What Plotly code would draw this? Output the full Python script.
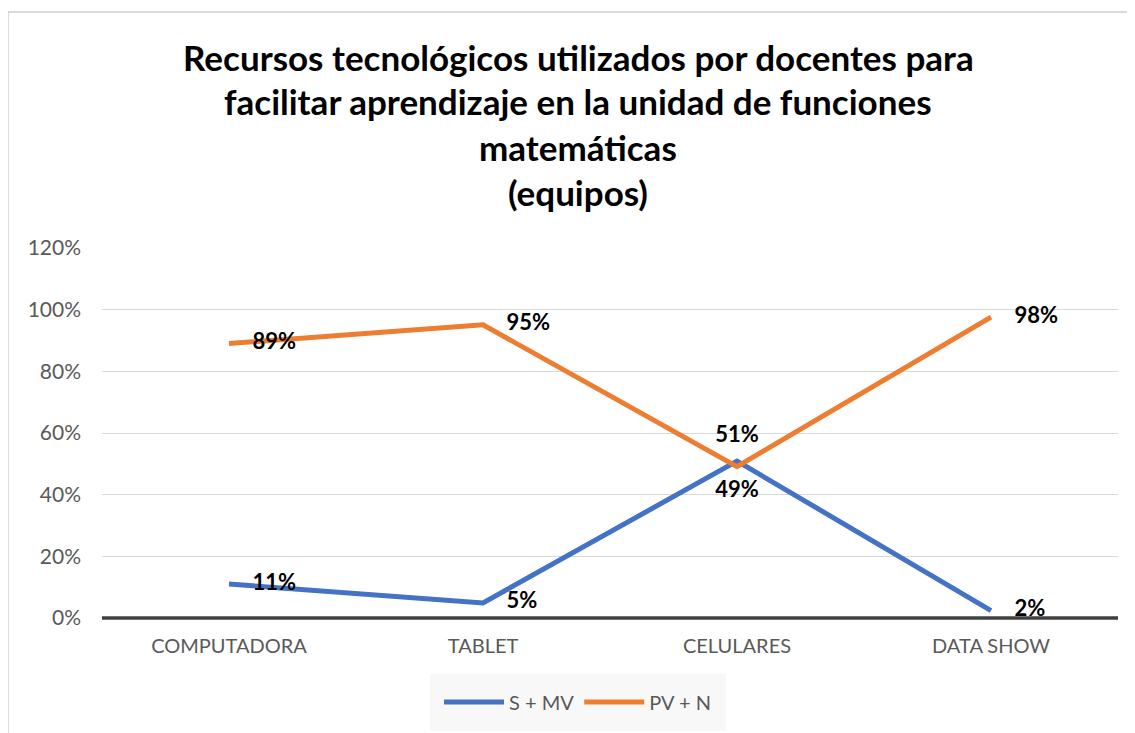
import plotly.graph_objects as go

categories = ["COMPUTADORA", "TABLET", "CELULARES", "DATA SHOW"]
s_mv = [0.11, 0.049, 0.509, 0.024]
pv_n = [0.89, 0.951, 0.491, 0.976]
y_ticks = [0, 0.2, 0.4, 0.6, 0.8, 1.0, 1.2]
y_tick_labels = ["0%", "20%", "40%", "60%", "80%", "100%", "120%"]
title_lines = ["Recursos tecnológicos utilizados por docentes para",
               "facilitar aprendizaje en la unidad de funciones",
               "matemáticas",
               "(equipos)"]

FONT = "Lato"
# page body has 8px margin: design in figure coords = page coords - 8
OFF = 8
L, T = 102 - OFF, 248 - OFF
PW, PH = 1016, 370
W, H = 1135 - OFF, 733 - OFF


def px_to_py(ypx):
    return (T + PH - (ypx - OFF)) / PH


def px_to_px(xpx):
    return ((xpx - OFF) - L) / PW


invisible_marker = dict(size=[36, 36, 20, 36], color="rgba(0,0,0,0)",
                        line=dict(width=0, color="rgba(0,0,0,0)"))

fig = go.Figure()
fig.add_trace(go.Scatter(
    x=categories, y=s_mv, name="S + MV", mode="lines+markers+text",
    line=dict(color="#4472C4", width=5),
    marker=invisible_marker,
    text=[f"<b>{round(v*100)}%</b>" for v in s_mv],
    textposition=["middle right", "middle right", "top center", "middle right"],
    textfont=dict(family=FONT, size=22, color="#000000"),
))
fig.add_trace(go.Scatter(
    x=categories, y=pv_n, name="PV + N", mode="lines+markers+text",
    line=dict(color="#ED7D31", width=5),
    marker=invisible_marker,
    text=[f"<b>{round(v*100)}%</b>" for v in pv_n],
    textposition=["middle right", "middle right", "bottom center", "middle right"],
    textfont=dict(family=FONT, size=22, color="#000000"),
))

annotations = []
title_y_px = [57, 101, 147, 192]
for line, ypx in zip(title_lines, title_y_px):
    annotations.append(dict(
        text=f"<b>{line}</b>", xref="paper", yref="paper",
        x=px_to_px(578), y=px_to_py(ypx),
        xanchor="center", yanchor="middle", showarrow=False,
        font=dict(family=FONT, size=35, color="#000000"),
    ))

fig.update_layout(
    width=W, height=H,
    margin=dict(l=L, r=W - L - PW, t=T, b=H - T - PH, autoexpand=False),
    paper_bgcolor="white", plot_bgcolor="white",
    font=dict(family=FONT, color="#595959"),
    showlegend=True,
    legend=dict(orientation="h", x=px_to_px(578), xanchor="center",
                y=px_to_py(702), yanchor="middle",
                bgcolor="#f8f8f8", bordercolor="#f8f8f8", borderwidth=9,
                font=dict(family=FONT, size=20, color="#595959"),
                itemwidth=60),
    xaxis=dict(showgrid=False, tickfont=dict(family=FONT, size=20, color="#595959"),
               showline=False, ticks="", range=[-0.5, 3.5], automargin=False,
               ticklabelstandoff=14),
    yaxis=dict(range=[0, 1.2], tickvals=y_ticks, ticktext=y_tick_labels,
               showgrid=True, gridcolor="#d9d9d9", gridwidth=1,
               tickfont=dict(family=FONT, size=21, color="#595959"),
               zeroline=False, showline=False, ticks="", ticklabelstandoff=20,
               automargin=False),
    annotations=annotations,
    shapes=[
        dict(type="line", xref="paper", yref="paper", x0=0, x1=1, y0=0, y1=0,
             line=dict(color="#404040", width=3.5), layer="above"),
        dict(type="rect", xref="paper", yref="paper",
             x0=px_to_px(8), x1=px_to_px(1145),
             y0=px_to_py(745), y1=px_to_py(12),
             line=dict(color="#d0d0d0", width=1.5)),
    ],
)

fig.write_html("out.html")
